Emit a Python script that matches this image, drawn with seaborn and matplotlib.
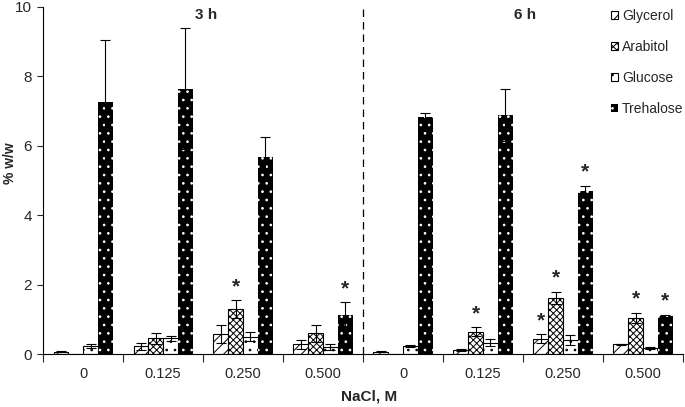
import numpy as np
import pandas as pd
import matplotlib
matplotlib.use("Agg")
import matplotlib.pyplot as plt
from matplotlib.patches import Patch
import seaborn as sns

groups = ["3h 0", "3h 0.125", "3h 0.250", "3h 0.500",
          "6h 0", "6h 0.125", "6h 0.250", "6h 0.500"]
tick_labels = ["0", "0.125", "0.250", "0.500", "0", "0.125", "0.250", "0.500"]
sugars = ["Glycerol", "Arabitol", "Glucose", "Trehalose"]

glycerol = [0.07, 0.22, 0.57, 0.28, 0.07, 0.12, 0.44, 0.28]
glycerol_err = [0.02, 0.10, 0.26, 0.12, 0.01, 0.03, 0.13, 0.02]
arabitol = [0.0, 0.45, 1.30, 0.60, 0.0, 0.65, 1.62, 1.04]
arabitol_err = [0.0, 0.15, 0.25, 0.25, 0.0, 0.12, 0.18, 0.15]
glucose = [0.23, 0.45, 0.50, 0.20, 0.22, 0.33, 0.41, 0.17]
glucose_err = [0.06, 0.07, 0.13, 0.08, 0.03, 0.10, 0.14, 0.02]
trehalose = [7.27, 7.65, 5.68, 1.12, 6.82, 6.88, 4.70, 1.10]
trehalose_err = [1.78, 1.75, 0.57, 0.37, 0.13, 0.75, 0.15, 0.04]

# significant differences (group index, sugar)
stars = [(2, "Arabitol"), (3, "Trehalose"), (5, "Arabitol"),
         (6, "Glycerol"), (6, "Arabitol"), (6, "Trehalose"),
         (7, "Arabitol"), (7, "Trehalose")]

means = {"Glycerol": glycerol, "Arabitol": arabitol, "Glucose": glucose, "Trehalose": trehalose}
errs = {"Glycerol": glycerol_err, "Arabitol": arabitol_err, "Glucose": glucose_err, "Trehalose": trehalose_err}

rows = []
for s in sugars:
    for g, v, e in zip(groups, means[s], errs[s]):
        rows.append({"group": g, "sugar": s, "value": v, "err": e})
df = pd.DataFrame(rows)

styles = {
    "Glycerol": dict(face="white", hatch="///"),
    "Arabitol": dict(face="white", hatch="xxxxx"),
    "Glucose": dict(face="white", hatch=".."),
    "Trehalose": dict(face="black", hatch=".."),
}

sns.set_style("white")
plt.rcParams["font.family"] = ["Liberation Sans", "DejaVu Sans"]
plt.rcParams["hatch.linewidth"] = 0.7

fig = plt.figure(figsize=(6.85, 4.07), dpi=100)
ax = fig.add_axes([0.063, 0.130, 0.934, 0.853])

sns.barplot(data=df, x="group", y="value", hue="sugar", order=groups,
            hue_order=sugars, errorbar=None, width=0.74, ax=ax,
            legend=False, saturation=1)

bar_pos = {}
for i, s in enumerate(sugars):
    st = styles[s]
    for j in range(len(groups)):
        p = ax.patches[i * len(groups) + j]
        p.set_facecolor(st["face"])
        p.set_hatch(st["hatch"])
        if s == "Trehalose":
            p.set_edgecolor("white")
            p.set_linewidth(0)
        else:
            p.set_edgecolor("black")
            p.set_linewidth(0.8)
        xc = p.get_x() + p.get_width() / 2
        bar_pos[(j, s)] = xc
        e = errs[s][j]
        if e > 0:
            ax.errorbar(xc, means[s][j], yerr=e, color="black", lw=0.8,
                        capsize=3.5, capthick=0.8, zorder=5)

for j, s in stars:
    top = means[s][j] + errs[s][j]
    ax.text(bar_pos[(j, s)], top + 0.12, "*", ha="center", va="bottom",
            fontsize=15, fontweight="bold")

ax.axvline(3.5, color="black", lw=0.9, ls=(0, (6, 4)))

ax.set_xlim(-0.5, 7.5)
ax.set_ylim(0, 10)
ax.set_yticks(np.arange(0, 11, 2))
ax.tick_params(axis="y", direction="out", length=4, width=0.8, labelsize=11, left=True, pad=4)
ax.set_xticks(np.arange(-0.5, 8, 1))
ax.set_xticklabels([])
ax.set_xticks(np.arange(8), minor=True)
ax.set_xticklabels(tick_labels, minor=True, fontsize=10.5)
ax.tick_params(axis="x", which="major", direction="out", length=6, width=0.8, bottom=True)
ax.tick_params(axis="x", which="minor", length=0, pad=9)

for side in ["top", "right"]:
    ax.spines[side].set_visible(False)
for side in ["left", "bottom"]:
    ax.spines[side].set_color("black")
    ax.spines[side].set_linewidth(0.8)

ax.set_xlabel("NaCl, M", fontsize=11, fontweight="bold")
ax.set_ylabel("% w/w", fontsize=10, fontweight="bold")
ax.xaxis.label.set_va("center")
ax.xaxis.set_label_coords(0.509, -0.121)
ax.yaxis.set_label_coords(-0.041, 0.55)

ax.text(1.54, 9.77, "3 h", ha="center", va="center", fontsize=11, fontweight="bold")
ax.text(5.53, 9.77, "6 h", ha="center", va="center", fontsize=11, fontweight="bold")

handles = []
for s in sugars:
    st = styles[s]
    if s == "Trehalose":
        h = Patch(facecolor=st["face"], edgecolor="white", hatch=st["hatch"], linewidth=0)
    else:
        h = Patch(facecolor=st["face"], edgecolor="black", hatch=st["hatch"], linewidth=0.8)
    handles.append(h)
ax.legend(handles, sugars, loc="upper left", bbox_to_anchor=(0.887, 0.994),
          frameon=False, fontsize=10, handlelength=0.5, handleheight=0.5,
          handletextpad=0.3, labelspacing=1.22, borderaxespad=0, borderpad=0)

fig.savefig("out.png", dpi=100)
